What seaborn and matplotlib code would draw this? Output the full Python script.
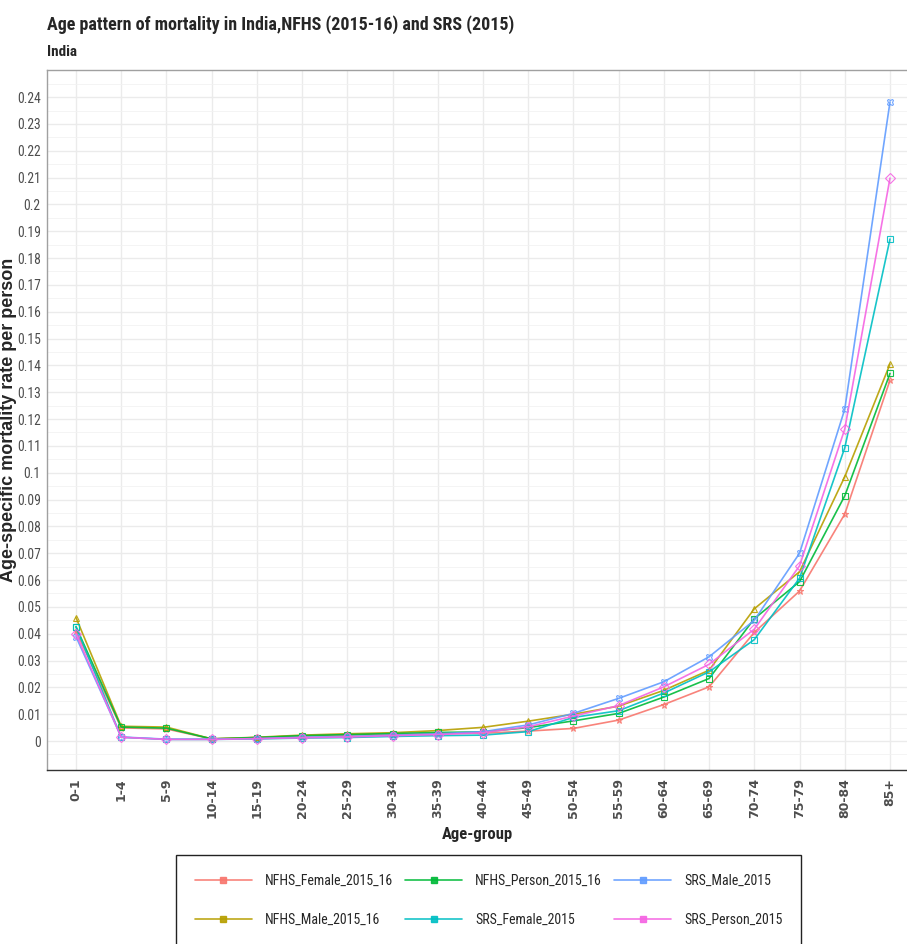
import numpy as np
import pandas as pd
import matplotlib
matplotlib.use("Agg")
import matplotlib.pyplot as plt
import seaborn as sns
from matplotlib.ticker import FixedLocator
from matplotlib.lines import Line2D
from matplotlib import font_manager

ages = ["0-1", "1-4", "5-9", "10-14", "15-19", "20-24", "25-29", "30-34", "35-39",
        "40-44", "45-49", "50-54", "55-59", "60-64", "65-69", "70-74", "75-79",
        "80-84", "85+"]

nfhs_female = [0.0410, 0.0049, 0.0045, 0.0008, 0.0013, 0.0019, 0.0022, 0.0025, 0.0028, 0.0029,
               0.0037, 0.0047, 0.0078, 0.0136, 0.0202, 0.0405, 0.0559, 0.0846, 0.1345]
nfhs_male = [0.0460, 0.0055, 0.0052, 0.0008, 0.0014, 0.0022, 0.0027, 0.0031, 0.0039, 0.0051,
             0.0074, 0.0100, 0.0130, 0.0189, 0.0264, 0.0493, 0.0631, 0.0985, 0.1405]
nfhs_person = [0.0426, 0.0052, 0.0048, 0.0008, 0.0013, 0.0020, 0.0024, 0.0028, 0.0032, 0.0034,
               0.0050, 0.0075, 0.0103, 0.0164, 0.0233, 0.0456, 0.0594, 0.0914, 0.1370]
srs_female = [0.0426, 0.0014, 0.0006, 0.0006, 0.0008, 0.0011, 0.0013, 0.0017, 0.0020, 0.0022,
              0.0035, 0.0088, 0.0113, 0.0179, 0.0258, 0.0378, 0.0607, 0.1093, 0.1871]
srs_male = [0.0389, 0.0015, 0.0007, 0.0007, 0.0009, 0.0014, 0.0017, 0.0022, 0.0027, 0.0035,
            0.0060, 0.0103, 0.0159, 0.0221, 0.0314, 0.0450, 0.0700, 0.1237, 0.2382]
srs_person = [0.0400, 0.0014, 0.0006, 0.0006, 0.0009, 0.0012, 0.0015, 0.0020, 0.0024, 0.0031,
              0.0053, 0.0093, 0.0132, 0.0202, 0.0286, 0.0417, 0.0653, 0.1163, 0.2098]

series_names = ["NFHS_Female_2015_16", "NFHS_Male_2015_16", "NFHS_Person_2015_16",
                "SRS_Female_2015", "SRS_Male_2015", "SRS_Person_2015"]
series_values = [nfhs_female, nfhs_male, nfhs_person, srs_female, srs_male, srs_person]
colors = ["#F8766D", "#B79F00", "#00BA38", "#00BFC4", "#619CFF", "#F564E3"]
markers = ["*", "^", "s", "s", "X", "D"]

y_ticks = [round(0.01 * i, 2) for i in range(0, 25)]
y_ticklabels = [f"{v:g}" for v in y_ticks]

rows = []
for name, vals in zip(series_names, series_values):
    for i, (a, v) in enumerate(zip(ages, vals)):
        rows.append({"pos": i, "age": a, "rate": v, "series": name})
df = pd.DataFrame(rows)

sns.set_theme(style="whitegrid")

# pick a narrow font if one is installed
names = {f.name for f in font_manager.fontManager.ttflist}
narrow = None
for cand in ["Liberation Sans Narrow", "Arial Narrow", "Roboto Condensed", "Open Sans Condensed"]:
    if cand in names:
        narrow = cand
        break
if narrow:
    plt.rcParams["font.family"] = [narrow, "DejaVu Sans"]
else:
    plt.rcParams["font.family"] = ["DejaVu Sans"]
    plt.rcParams["font.stretch"] = "condensed"

fig = plt.figure(figsize=(9.07, 9.44), dpi=100)
ax = fig.add_axes([47 / 907, 1 - 770 / 944, 1 - 47 / 907, (770 - 70) / 944])

sns.lineplot(data=df, x="pos", y="rate", hue="series", style="series",
             hue_order=series_names, style_order=series_names,
             palette=dict(zip(series_names, colors)),
             markers=dict(zip(series_names, markers)), dashes=False,
             markersize=5, linewidth=1.2,
             ax=ax, legend=False)
for ln in ax.lines:
    ln.set_markerfacecolor("none")
    ln.set_markeredgecolor(ln.get_color())
    ln.set_markeredgewidth(0.8)
    ln.set_alpha(0.9)

ax.set_xlim(-0.641, 18.376)
ax.set_ylim(-0.0108, 0.2501)
ax.set_xticks(range(len(ages)))
ax.set_xticklabels(ages, rotation=90, fontsize=9, fontweight="bold",
                   family="DejaVu Sans", color="#4D4D4D")
for t in ax.get_xticklabels():
    t.set_fontstretch("normal")
ax.yaxis.set_major_locator(FixedLocator(y_ticks))
ax.set_yticklabels(y_ticklabels, fontsize=9.8, color="#4D4D4D")
ax.yaxis.set_minor_locator(FixedLocator([-0.005] + [round(0.005 + 0.01 * i, 3) for i in range(25)]))

ax.grid(True, which="major", color="#EBEBEB", linewidth=1.0)
ax.grid(True, which="minor", axis="y", color="#F2F2F2", linewidth=0.6)
ax.tick_params(axis="both", which="major", length=3, width=0.8, color="#333333", pad=1.5)
ax.tick_params(axis="y", which="minor", length=0)
ax.tick_params(axis="x", which="major", pad=3)

for s in ["left", "top"]:
    ax.spines[s].set_color("#A0A0A0")
    ax.spines[s].set_linewidth(1.0)
ax.spines["bottom"].set_color("#333333")
ax.spines["bottom"].set_linewidth(1.0)
ax.spines["right"].set_visible(False)

ax.set_xlabel("Age-group", fontsize=12, fontweight="bold", labelpad=6)
ax.set_ylabel("Age-specific mortality rate per person", fontsize=13, fontweight="bold",
              family="Liberation Sans")
ax.yaxis.label.set_fontstretch("normal")
ax.yaxis.set_label_coords((17 - 47) / 860, 0.5)

fig.text(47 / 907, 1 - 25 / 944, "Age pattern of mortality in India,NFHS (2015-16) and SRS (2015)",
         fontsize=13, fontweight="bold", ha="left", va="center")
fig.text(47 / 907, 1 - 52 / 944, "India", fontsize=11, fontweight="bold", ha="left", va="center")

handles = [Line2D([0], [0], color=c, marker="s", markersize=4, linewidth=1.2, alpha=0.9)
           for c in colors]
leg = fig.legend(handles, series_names, loc="upper left",
                 bbox_to_anchor=(176 / 907, 1 - 855 / 944), ncol=3,
                 fontsize=10,
                 frameon=True, fancybox=False, edgecolor="#222222", framealpha=1,
                 handlelength=4.1, handletextpad=0.93, columnspacing=0.9,
                 labelspacing=1.8, borderpad=1.35, borderaxespad=0)
leg.get_frame().set_linewidth(1.0)

fig.savefig("out.png", dpi=100)
